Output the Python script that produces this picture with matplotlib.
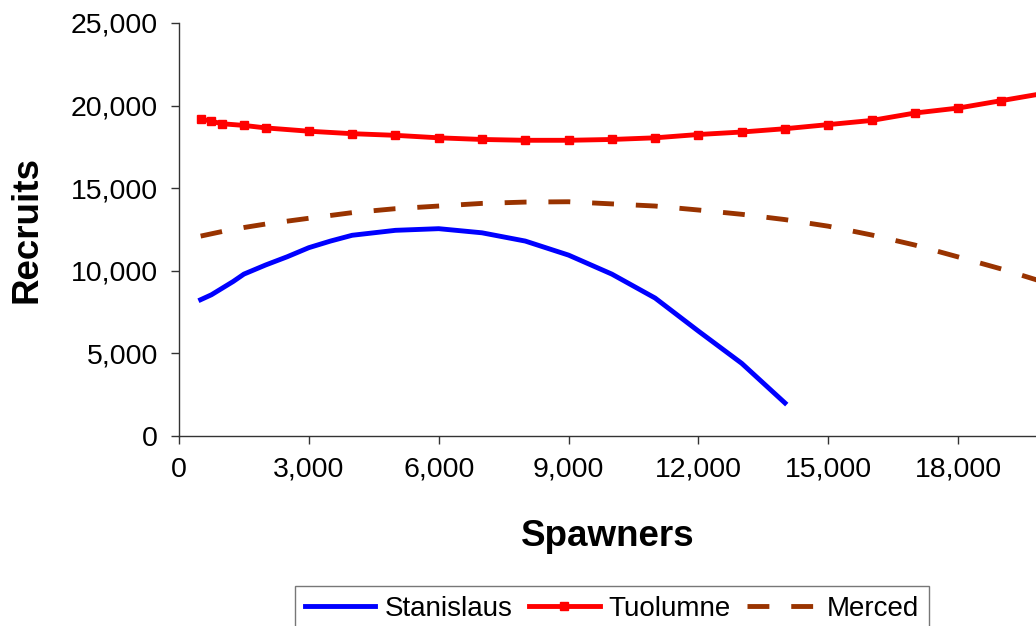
import numpy as np
import matplotlib
matplotlib.use("Agg")
import matplotlib.pyplot as plt
from matplotlib.ticker import FuncFormatter

plt.rcParams['font.family'] = ['Liberation Sans', 'DejaVu Sans']

# Stanislaus
stan_x = [500, 750, 1000, 1250, 1500, 2000, 2500, 3000, 3500, 4000, 5000,
          6000, 7000, 8000, 9000, 10000, 11000, 12000, 13000, 14000]
stan_y = [8250, 8550, 8950, 9350, 9800, 10350, 10850, 11400, 11800, 12150,
          12450, 12550, 12300, 11800, 10950, 9800, 8350, 6350, 4400, 2000]

# Tuolumne
tuol_x = [500, 750, 1000, 1500, 2000, 3000, 4000, 5000, 6000, 7000, 8000,
          9000, 10000, 11000, 12000, 13000, 14000, 15000, 16000, 17000,
          18000, 19000, 20000]
tuol_y = [19200, 19050, 18900, 18800, 18650, 18450, 18300, 18200, 18050,
          17950, 17900, 17900, 17950, 18050, 18250, 18400, 18600, 18850,
          19100, 19550, 19850, 20300, 20750]

# Merced
merc_x = [500, 1000, 1500, 2000, 3000, 4000, 5000, 6000, 7000, 8000, 9000,
          10000, 11000, 12000, 13000, 14000, 15000, 16000, 17000, 18000,
          19000, 20000]
merc_y = [12100, 12380, 12620, 12830, 13180, 13520, 13760, 13920, 14080,
          14160, 14180, 14050, 13920, 13680, 13420, 13100, 12700, 12170,
          11560, 10840, 10110, 9300]

x_ticks = [0, 3000, 6000, 9000, 12000, 15000, 18000]
y_ticks = [0, 5000, 10000, 15000, 20000, 25000]

fig = plt.figure(figsize=(10.36, 6.26), dpi=100)
ax = fig.add_axes([179 / 1036, 1 - 436 / 626, 1 - 179 / 1036, (436 - 23) / 626])

ax.plot(stan_x, stan_y, color='#0000FF', lw=3.5, label='Stanislaus')
ax.plot(tuol_x, tuol_y, color='#FF0000', lw=3.5, marker='s', markersize=5.5,
        label='Tuolumne')
ax.plot(merc_x, merc_y, color='#993300', lw=3.5, linestyle=(0, (4.5, 4.5)),
        label='Merced')

ax.set_xlim(0, 19800)
ax.set_ylim(0, 25000)
ax.set_xticks(x_ticks)
ax.set_yticks(y_ticks)
fmt = FuncFormatter(lambda v, p: f'{int(v):,}')
ax.xaxis.set_major_formatter(fmt)
ax.yaxis.set_major_formatter(fmt)

for s in ['top', 'right']:
    ax.spines[s].set_visible(False)
for s in ['left', 'bottom']:
    ax.spines[s].set_linewidth(1)
    ax.spines[s].set_color('#333333')
ax.tick_params(direction='out', length=6, width=1, color='#333333',
               labelsize=20.5, pad=9)

ax.set_xlabel('Spawners', fontsize=26.5, fontweight='bold', labelpad=26)
ax.set_ylabel('Recruits', fontsize=26.5, fontweight='bold', labelpad=19)

leg = fig.legend(loc='upper center', bbox_to_anchor=(612 / 1036, 1 - 586 / 626),
                 ncol=3, fontsize=20, frameon=True, fancybox=False,
                 edgecolor='#555555', handlelength=2.55, columnspacing=0.6,
                 handletextpad=0.32, borderpad=0.35, borderaxespad=0)
leg.get_frame().set_linewidth(1)

fig.savefig('out.png', dpi=100)
